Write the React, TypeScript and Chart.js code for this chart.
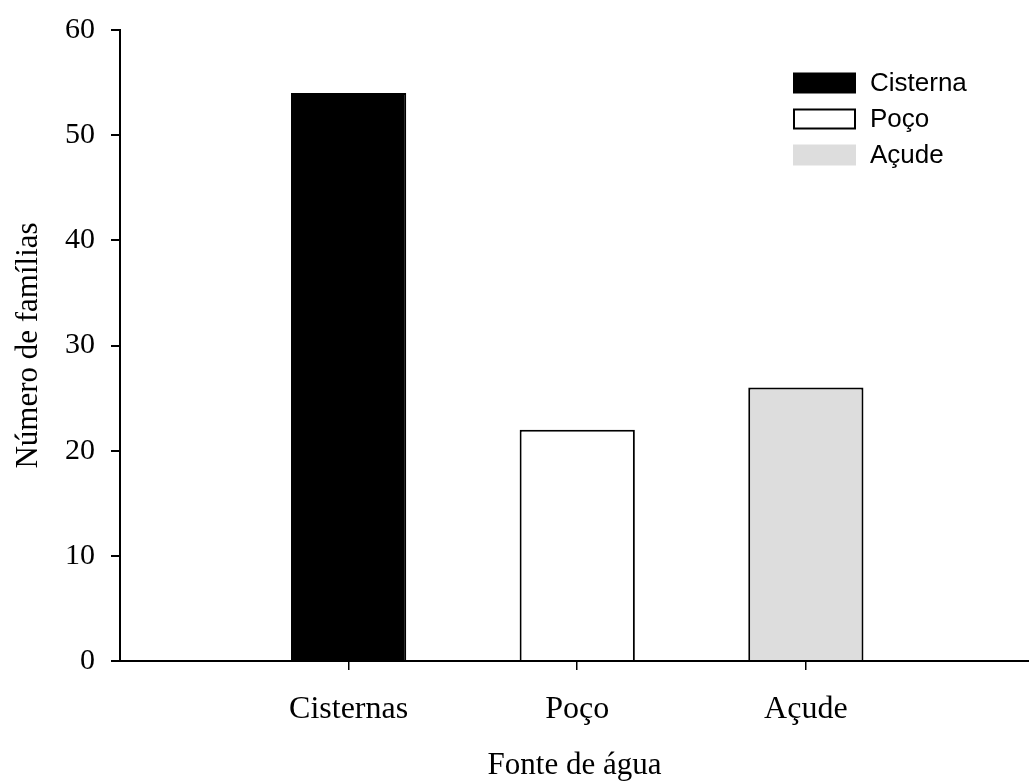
import React, { useEffect, useRef } from "react";
import { Chart, registerables } from "chart.js";

Chart.register(...registerables);

// Water source categories and number of families per source
const categories = ["Cisternas", "Poço", "Açude"];
const legendLabels = ["Cisterna", "Poço", "Açude"];
const families = [54, 22, 26];
const fillColors = ["#000000", "#ffffff", "#dddddd"];
const borderColors = ["#000000", "#000000", "#000000"];
const yTicks = [0, 10, 20, 30, 40, 50, 60];

const SERIF = "'Liberation Serif', 'Times New Roman', serif";
const SANS = "'Liberation Sans', Arial, sans-serif";

// Legend box drawn in the upper right corner of the plot
const boxLegend = {
  id: "boxLegend",
  afterDraw(chart: any) {
    const { ctx, chartArea } = chart;
    const boxW = 63;
    const boxH = 21;
    const rowGap = 36;
    const x0 = chartArea.right - 236;
    const y0 = chartArea.top + 53;
    ctx.save();
    ctx.font = `26px ${SANS}`;
    ctx.textBaseline = "middle";
    ctx.textAlign = "left";
    chart.data.datasets.forEach((ds: any, i: number) => {
      const cy = y0 + i * rowGap;
      const top = cy - boxH / 2;
      ctx.fillStyle = ds.backgroundColor;
      ctx.fillRect(x0, top, boxW, boxH);
      if (ds.backgroundColor === "#ffffff") {
        ctx.strokeStyle = "#000";
        ctx.lineWidth = 2;
        ctx.strokeRect(x0 + 1, top + 1, boxW - 2, boxH - 2);
      }
      ctx.fillStyle = "#000";
      ctx.fillText(ds.label, x0 + boxW + 14, cy + 1);
    });
    ctx.restore();
  },
};

export default function App() {
  const canvasRef = useRef<HTMLCanvasElement>(null);

  useEffect(() => {
    if (!canvasRef.current) return;
    const chart = new Chart(canvasRef.current, {
      type: "bar",
      data: {
        datasets: categories.map((_, i) => ({
          label: legendLabels[i],
          data: [{ x: i + 1, y: families[i] }],
          backgroundColor: fillColors[i],
          borderColor: borderColors[i],
          borderWidth: 2,
          grouped: false,
          categoryPercentage: 1,
          barPercentage: 0.504,
        })),
      },
      options: {
        animation: false,
        responsive: false,
        layout: { padding: { top: 30, left: 0, right: 0, bottom: 0 } },
        plugins: {
          legend: { display: false },
          tooltip: { enabled: false },
        },
        scales: {
          x: {
            type: "linear",
            min: 0,
            max: 3.976,
            offset: false,
            afterBuildTicks: (scale: any) => {
              scale.ticks = categories.map((_, i) => ({ value: i + 1 }));
            },
            afterFit: (scale: any) => {
              scale.height = 120;
              scale.paddingLeft = 0;
              scale.paddingRight = 0;
            },
            grid: {
              offset: false,
              drawOnChartArea: false,
              drawTicks: true,
              tickLength: 9,
              color: "#000",
              lineWidth: 1.5,
            },
            border: { display: true, color: "#000", width: 2 },
            ticks: {
              autoSkip: false,
              maxRotation: 0,
              padding: 20,
              color: "#000",
              font: { family: SERIF, size: 32 },
              callback: (v: any) => categories[Number(v) - 1] ?? "",
            },
            title: {
              display: true,
              text: "Fonte de água",
              color: "#000",
              font: { family: SERIF, size: 31, lineHeight: 1 },
              padding: { top: 0, bottom: 0 },
            },
          },
          y: {
            type: "linear",
            min: 0,
            max: 60,
            afterBuildTicks: (scale: any) => {
              scale.ticks = yTicks.map((v) => ({ value: v }));
            },
            afterFit: (scale: any) => {
              scale.width = 120;
              scale.paddingTop = 0;
              scale.paddingBottom = 0;
            },
            grid: {
              drawOnChartArea: false,
              drawTicks: true,
              tickLength: 9,
              color: "#000",
              lineWidth: 2,
            },
            border: { display: true, color: "#000", width: 2 },
            ticks: {
              padding: 16,
              color: "#000",
              font: { family: SERIF, size: 30 },
            },
            title: {
              display: true,
              text: "Número de famílias",
              color: "#000",
              font: { family: SERIF, size: 31, lineHeight: 1 },
              padding: { top: 13, bottom: 0 },
            },
          },
        },
      },
      plugins: [boxLegend],
    });
    return () => chart.destroy();
  }, []);

  return (
    <div style={{ position: "absolute", left: 0, top: 0, width: 1029, height: 781, background: "#fff" }}>
      <canvas ref={canvasRef} width={1029} height={781} />
    </div>
  );
}
